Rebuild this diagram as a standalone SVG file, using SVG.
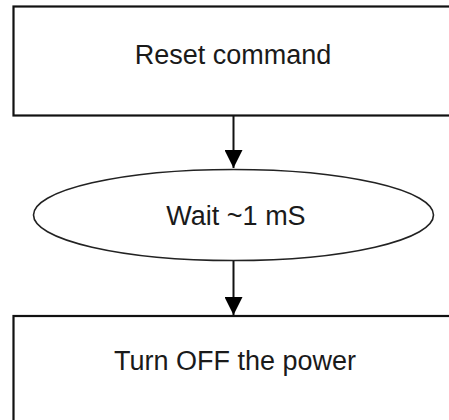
<svg xmlns="http://www.w3.org/2000/svg" width="449" height="420" viewBox="0 0 449 420">
<defs>
<style>
.box{fill:#fff;stroke:#111;stroke-width:2.2}
.ell{fill:#fff;stroke:#222;stroke-width:1.6}
.lbl{font-family:"Liberation Sans",Arial,sans-serif;font-size:27px;fill:#1a1a1a;text-anchor:middle}
.conn{stroke:#111;stroke-width:2;fill:none}
</style>
<marker id="ah" markerUnits="userSpaceOnUse" markerWidth="18" markerHeight="18" viewBox="0 0 16 16" refX="16" refY="8" orient="auto">
<path d="M0,0 L16,8 L0,16 Z" fill="#000"/>
</marker>
</defs>
<rect width="449" height="420" fill="#fff"/>
<g id="node-reset">
<rect class="box" x="13.5" y="6.5" width="450" height="109"/>
<text class="lbl" x="233" y="64">Reset command</text>
</g>
<g id="node-wait">
<ellipse class="ell" cx="233.5" cy="215" rx="200" ry="45.5"/>
<text class="lbl" x="236" y="225">Wait ~1 mS</text>
</g>
<g id="node-power">
<rect class="box" x="13.5" y="316" width="450" height="120"/>
<text class="lbl" x="235" y="370">Turn OFF the power</text>
</g>
<g id="connectors">
<line class="conn" x1="233.5" y1="116" x2="233.5" y2="168" marker-end="url(#ah)"/>
<line class="conn" x1="233.5" y1="261" x2="233.5" y2="315" marker-end="url(#ah)"/>
</g>
</svg>
